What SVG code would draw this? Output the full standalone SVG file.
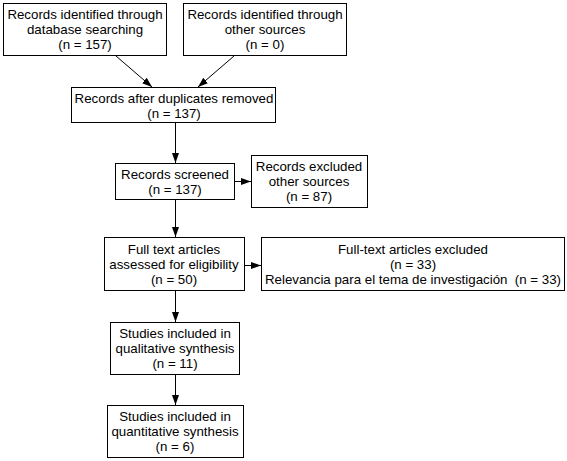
<svg xmlns="http://www.w3.org/2000/svg" width="567" height="461" viewBox="0 0 567 461">
<style>
rect{fill:#fff;stroke:#000;stroke-width:1}
text{font-family:"Liberation Sans",Arial,sans-serif;font-size:13.3px;fill:#000;text-anchor:middle}
.c line{stroke:#000;stroke-width:1}
</style>
<defs>
<marker id="ah" viewBox="0 0 10 10" refX="10" refY="5" markerWidth="10" markerHeight="10" markerUnits="userSpaceOnUse" orient="auto">
<path d="M0,1.5 L10,5 L0,8.5 Z" fill="#000"/>
</marker>
</defs>
<rect x="0" y="0" width="567" height="461" style="stroke:none"/>
<g id="n1"><rect x="3.5" y="3.5" width="163" height="52"/><text x="85" y="18.5">Records identified through</text><text x="85" y="33.5">database searching</text><text x="85" y="48.5">(n = 157)</text></g>
<g id="n2"><rect x="183.5" y="3.5" width="163" height="52"/><text x="265" y="18.5">Records identified through</text><text x="265" y="33.5">other sources</text><text x="265" y="48.5">(n = 0)</text></g>
<g id="n3"><rect x="71.5" y="87.5" width="204" height="35"/><text x="174" y="102.5">Records after duplicates removed</text><text x="174" y="117.5">(n = 137)</text></g>
<g id="n4"><rect x="115.5" y="163.5" width="119" height="36"/><text x="175" y="178.5">Records screened</text><text x="175" y="193.5">(n = 137)</text></g>
<g id="n5"><rect x="251.5" y="155.5" width="116" height="52"/><text x="309" y="170.5">Records excluded</text><text x="309" y="185.5">other sources</text><text x="309" y="200.5">(n = 87)</text></g>
<g id="n6"><rect x="104.5" y="237.5" width="140" height="53"/><text x="174" y="253.5">Full text articles</text><text x="174" y="268.5">assessed for eligibility</text><text x="174" y="283.5">(n = 50)</text></g>
<g id="n7"><rect x="261.5" y="237.5" width="303" height="53"/><text x="413" y="253.5">Full-text articles excluded</text><text x="413" y="268.5">(n = 33)</text><text x="413" y="283.5" style="white-space:pre">Relevancia para el tema de investigación  (n = 33)</text></g>
<g id="n8"><rect x="110.5" y="322.5" width="129" height="52"/><text x="175" y="337.5">Studies included in</text><text x="175" y="352.5">qualitative synthesis</text><text x="175" y="367.5">(n = 11)</text></g>
<g id="n9"><rect x="107.5" y="405.5" width="136" height="52"/><text x="175" y="421">Studies included in</text><text x="175" y="436">quantitative synthesis</text><text x="175" y="451">(n = 6)</text></g>
<g class="c" id="connectors">
<line x1="116" y1="56" x2="152" y2="87" marker-end="url(#ah)"/>
<line x1="234" y1="56" x2="198" y2="87" marker-end="url(#ah)"/>
<line x1="175.5" y1="123" x2="175.5" y2="163" marker-end="url(#ah)"/>
<line x1="235" y1="181.5" x2="251" y2="181.5" marker-end="url(#ah)"/>
<line x1="175.5" y1="200" x2="175.5" y2="237" marker-end="url(#ah)"/>
<line x1="245" y1="265.5" x2="261" y2="265.5" marker-end="url(#ah)"/>
<line x1="175.5" y1="291" x2="175.5" y2="322" marker-end="url(#ah)"/>
<line x1="175.5" y1="375" x2="175.5" y2="405" marker-end="url(#ah)"/>
</g>
</svg>
